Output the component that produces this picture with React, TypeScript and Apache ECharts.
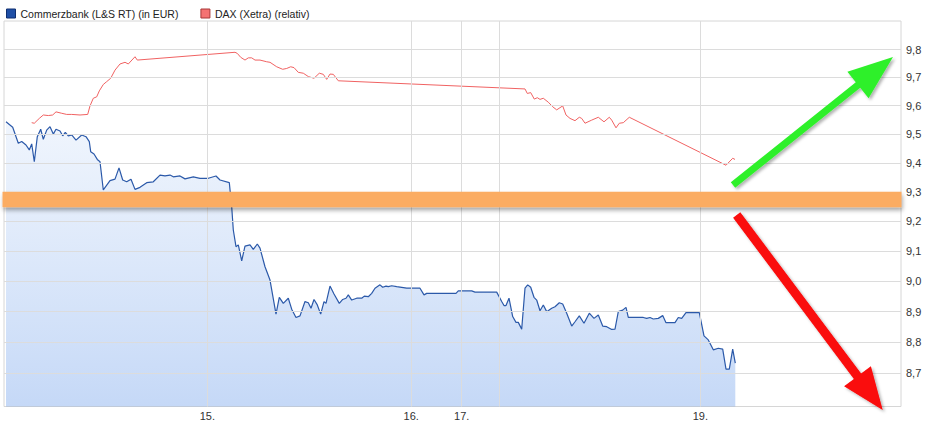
import React, { useEffect, useRef } from "react";
import * as echarts from "echarts";

const NAME_CB = "Commerzbank (L&S RT) (in EUR)";
const NAME_DAX = "DAX (Xetra) (relativ)";

// [time position, price]
const commerzbank: [number, number][] = [
  [6, 9.543], [12.7, 9.524], [18.3, 9.468], [21.7, 9.474], [26, 9.462], [29.3, 9.445], [31.7, 9.466], [34.3, 9.404],
  [37.3, 9.491], [40.7, 9.517], [43.3, 9.482], [46.7, 9.514], [50, 9.526], [53.3, 9.5], [56, 9.517], [60, 9.511],
  [62.7, 9.494], [65.3, 9.506], [68.3, 9.494], [71.7, 9.497], [76, 9.479], [81.7, 9.497], [86, 9.491], [89.3, 9.474],
  [90.7, 9.439], [94, 9.431], [97.3, 9.412], [100, 9.404], [103.3, 9.307], [110, 9.339], [115, 9.344], [119, 9.383],
  [122.7, 9.341], [126.7, 9.335], [131, 9.344], [135, 9.309], [140, 9.316], [146.7, 9.332], [153.3, 9.335], [160, 9.358],
  [165, 9.355], [170, 9.358], [173.3, 9.352], [180, 9.355], [185, 9.345], [193.3, 9.352], [200, 9.347], [208.3, 9.347],
  [216, 9.355], [220, 9.341], [229.3, 9.332], [231.7, 9.25], [233.3, 9.171], [236, 9.115], [238.3, 9.121], [241.7, 9.068],
  [245, 9.117], [250, 9.121], [253.3, 9.106], [257.3, 9.124], [260, 9.11], [265, 9.048], [270, 9.004], [276, 8.892],
  [279.3, 8.947], [283.3, 8.927], [288.3, 8.944], [291.7, 8.908], [296, 8.881], [300, 8.886], [305, 8.933], [308.3, 8.929],
  [311, 8.911], [314, 8.94], [317.3, 8.922], [320.7, 8.892], [324, 8.933], [326, 8.927], [330, 8.984], [334, 8.958],
  [339.3, 8.927], [342.7, 8.94], [346, 8.944], [348.3, 8.955], [351.7, 8.938], [356.7, 8.944], [361.7, 8.944], [364.3, 8.951],
  [368.3, 8.949], [371.7, 8.96], [375, 8.977], [380, 8.988], [382.7, 8.98], [386, 8.984], [388.3, 8.982], [391.7, 8.985],
  [396.7, 8.982], [401.7, 8.98], [406.7, 8.977], [420, 8.977], [424, 8.955], [426.7, 8.96], [450, 8.96], [456, 8.96],
  [458.3, 8.968], [471.7, 8.968], [475, 8.964], [496.7, 8.964], [501.7, 8.933], [504, 8.92], [506, 8.92], [509, 8.944],
  [512.7, 8.884], [516, 8.865], [518.3, 8.865], [521.7, 8.843], [525, 8.977], [527.7, 8.988], [530.7, 8.98], [534, 8.947],
  [536.7, 8.938], [540, 8.903], [543.3, 8.922], [546.7, 8.9], [551.7, 8.911], [555, 8.916], [559.3, 8.929], [562.7, 8.925],
  [566.7, 8.895], [571.7, 8.853], [575, 8.867], [579.3, 8.886], [584, 8.862], [589.3, 8.895], [594, 8.878], [598.3, 8.889],
  [602.7, 8.853], [606.7, 8.851], [611.7, 8.842], [615, 8.843], [618.3, 8.9], [622.7, 8.905], [626, 8.914], [628.3, 8.881],
  [643.3, 8.881], [646.7, 8.878], [650, 8.881], [653.3, 8.876], [658.3, 8.878], [662.7, 8.887], [666, 8.864], [675, 8.864],
  [678.3, 8.881], [681.7, 8.878], [686, 8.897], [699.3, 8.897], [704, 8.821], [708.3, 8.808], [713.3, 8.776], [718.3, 8.781],
  [722.7, 8.778], [726, 8.714], [729.3, 8.714], [732.7, 8.778], [735.3, 8.733],
];

const dax: [number, number][] = [
  [31.7, 9.54], [34.3, 9.538], [39.3, 9.555], [43.3, 9.567], [48.3, 9.565], [52.7, 9.567], [56, 9.578], [61.7, 9.573],
  [66.7, 9.569], [71.7, 9.569], [80, 9.567], [87.7, 9.569], [90, 9.599], [93.3, 9.626], [96.7, 9.631], [99.3, 9.652],
  [103.3, 9.675], [106.7, 9.685], [110.7, 9.697], [115, 9.726], [120, 9.748], [125, 9.754], [128.3, 9.748], [135, 9.774],
  [137.3, 9.762], [235, 9.79], [237.3, 9.786], [240.7, 9.772], [245, 9.762], [248.3, 9.77], [251.7, 9.77], [255, 9.762],
  [260, 9.762], [266.7, 9.756], [270, 9.754], [276.7, 9.738], [282.7, 9.729], [286.7, 9.732], [290.7, 9.738], [294, 9.735],
  [298.3, 9.718], [303.3, 9.715], [308.3, 9.703], [314, 9.697], [319.3, 9.715], [323.3, 9.711], [326.7, 9.693], [330, 9.712],
  [333.3, 9.711], [338.3, 9.688], [525, 9.659], [527.3, 9.643], [530.7, 9.646], [534.3, 9.623], [537.3, 9.628], [540, 9.622],
  [543.3, 9.626], [548.3, 9.612], [552.7, 9.596], [556.7, 9.585], [562.7, 9.599], [566, 9.567], [570, 9.555], [575, 9.547],
  [579.3, 9.559], [581.7, 9.555], [585, 9.538], [591.7, 9.549], [598.3, 9.559], [604, 9.543], [609.3, 9.559], [611.7, 9.549],
  [616, 9.522], [619.3, 9.538], [623.3, 9.54], [629.3, 9.559], [726, 9.392], [732.7, 9.416], [735, 9.412],
];

const yTicks = [8.7, 8.8, 8.9, 9.0, 9.1, 9.2, 9.3, 9.4, 9.5, 9.6, 9.7, 9.8];
const xTickPositions = [207.3, 411.2, 461.7, 499.3, 700.3];
const xTickLabels = ["15.", "16.", "17.", "", "19."];

const X_MIN = 4;
const X_MAX = 901;
const Y_MIN = 8.5951;
const Y_MAX = 9.9032;

const FONT = "'Liberation Sans', Arial, sans-serif";

export default function App() {
  const ref = useRef<HTMLDivElement>(null);

  useEffect(() => {
    document.body.style.margin = "0";
    if (!ref.current) return;
    const chart = echarts.init(ref.current, undefined, { renderer: "svg" });

    const gridMarks: any[] = [
      ...yTicks.map((v) => ({
        yAxis: v,
        label: { show: true, position: "end", formatter: v.toFixed(1).replace(".", ","), distance: 5 },
      })),
      ...xTickPositions.map((p, i) => ({
        xAxis: p,
        label: { show: xTickLabels[i] !== "", position: "start", formatter: xTickLabels[i], distance: 4 },
      })),
    ];

    const option: any = {
      animation: false,
      backgroundColor: "#ffffff",
      textStyle: { fontFamily: FONT },
      legend: {
        left: 1,
        top: 3,
        itemWidth: 9,
        itemHeight: 9,
        itemGap: 22,
        icon: "rect",
        selectedMode: false,
        textStyle: { fontSize: 10.5, color: "#222", fontFamily: FONT },
        data: [
          { name: NAME_CB, itemStyle: { color: "#1f4fa6", borderColor: "#0f2f70", borderWidth: 1 } },
          { name: NAME_DAX, itemStyle: { color: "#f47272", borderColor: "#a83838", borderWidth: 1 } },
        ],
      },
      grid: {
        left: 4,
        right: 27,
        top: 21,
        bottom: 20.5,
        show: true,
        borderColor: "#d6d6d6",
        borderWidth: 1,
      },
      xAxis: { type: "value", min: X_MIN, max: X_MAX, show: false },
      yAxis: { type: "log", logBase: 10, min: Y_MIN, max: Y_MAX, show: false },
      series: [
        {
          name: "gridlines",
          type: "line",
          data: [],
          z: 1,
          silent: true,
          markLine: {
            silent: true,
            symbol: ["none", "none"],
            animation: false,
            lineStyle: { color: "#dcdcdc", width: 1, type: "solid" },
            label: { color: "#333", fontSize: 11, fontFamily: FONT },
            emphasis: { disabled: true },
            data: gridMarks,
          },
        },
        {
          name: NAME_CB,
          type: "line",
          data: commerzbank,
          symbol: "none",
          z: 2,
          lineStyle: { color: "#2b59a9", width: 1.2 },
          itemStyle: { color: "#1f4fa6" },
          areaStyle: {
            origin: "start",
            color: new echarts.graphic.LinearGradient(0, 0, 0, 1, [
              { offset: 0, color: "rgba(110,160,235,0.15)" },
              { offset: 1, color: "rgba(90,145,232,0.5)" },
            ]),
          },
        },
        {
          name: NAME_DAX,
          type: "line",
          data: dax,
          symbol: "none",
          z: 3,
          lineStyle: { color: "#f06262", width: 1 },
          itemStyle: { color: "#f47272" },
        },
      ],
      graphic: [
        {
          type: "rect",
          z: 100,
          shape: { x: 2.5, y: 191.7, width: 899, height: 15.6 },
          style: {
            fill: "#fbac62",
            shadowColor: "rgba(0,0,0,0.35)",
            shadowBlur: 4,
            shadowOffsetX: 1,
            shadowOffsetY: 3,
          },
        },
        {
          type: "polygon",
          z: 101,
          shape: {
            points: [
              [735.2, 187.7], [860.2, 87.7], [868.6, 98.3], [893, 57], [847.4, 71.7], [855.8, 82.3], [730.8, 182.3],
            ],
          },
          style: {
            fill: "#2ef02a",
            shadowColor: "rgba(0,0,0,0.3)",
            shadowBlur: 3,
            shadowOffsetX: 2,
            shadowOffsetY: 2,
          },
        },
        {
          type: "polygon",
          z: 101,
          shape: {
            points: [
              [740.3, 212.3], [861.1, 373.6], [870.9, 366.3], [882.7, 410], [844.1, 386.3], [853.9, 379.0], [733.1, 217.7],
            ],
          },
          style: {
            fill: "#fa0808",
            shadowColor: "rgba(0,0,0,0.3)",
            shadowBlur: 3,
            shadowOffsetX: 2,
            shadowOffsetY: 2,
          },
        },
      ],
    };

    chart.setOption(option);
    return () => chart.dispose();
  }, []);

  return <div ref={ref} style={{ width: 928, height: 427 }} />;
}
